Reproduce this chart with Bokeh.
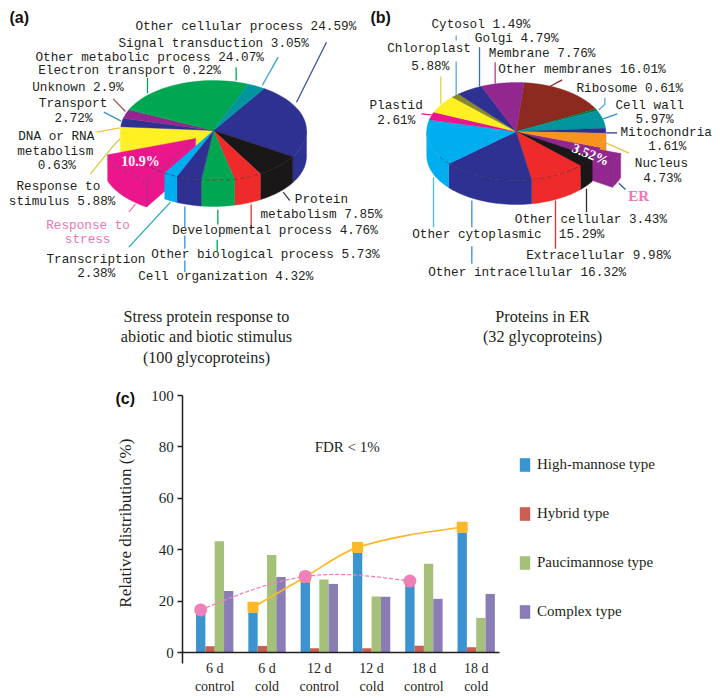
import math
from bokeh.embed import file_html
from bokeh.resources import INLINE
from bokeh.core.properties import value
from bokeh.layouts import column
from bokeh.models import (ColumnDataSource, FixedTicker, Label, Legend, LegendItem, Range1d)
from bokeh.plotting import figure

# ---------- data: panel (a) ----------
a_names = ["Other cellular process", "Protein metabolism", "Developmental process",
           "Other biological process", "Cell organization", "Transcription",
           "Response to stress", "Response to stimulus", "DNA or RNA metabolism",
           "Transport", "Unknown", "Electron transport", "Other metabolic process",
           "Signal transduction"]
a_values = [24.59, 7.85, 4.76, 5.73, 4.32, 2.38, 10.9, 5.88, 0.63, 2.72, 2.9, 0.22, 24.07, 3.05]
a_colors = ["#2e3192", "#1a1718", "#ee2a2b", "#00a651", "#2e3192", "#00aeef", "#ec168c",
            "#fff023", "#fff023", "#2e3192", "#92278f", "#00a651", "#00a651", "#00959f"]

# ---------- data: panel (b) ----------
b_names = ["Other membranes", "Ribosome", "Cell wall", "Mitochondria", "Nucleus", "ER",
           "Other cellular", "Extracellular", "Other intracellular", "Other cytoplasmic",
           "Plastid", "Chloroplast", "Cytosol", "Golgi", "Membrane"]
b_values = [16.01, 0.61, 5.97, 1.61, 4.73, 3.52, 3.43, 9.98, 16.32, 15.29, 2.61, 5.88, 1.49, 4.79, 7.76]
b_colors = ["#8c2a20", "#00763a", "#00959f", "#2e3192", "#f7941d", "#92278f", "#1a1718",
            "#ee2a2b", "#2e3192", "#00aeef", "#ec168c", "#fff023", "#8a8a2a", "#2e3192", "#92278f"]

# ---------- data: panel (c) ----------
groups = ["6 d\ncontrol", "6 d\ncold", "12 d\ncontrol", "12 d\ncold", "18 d\ncontrol", "18 d\ncold"]
high_mannose = [15.3, 15.7, 28.0, 39.0, 27.0, 46.8]
hybrid = [2.6, 2.7, 1.8, 1.8, 2.8, 2.2]
paucimannose = [43.4, 38.0, 28.5, 21.9, 34.6, 13.6]
complex_type = [24.0, 29.5, 26.8, 21.8, 21.0, 22.9]
cold_idx = [1, 2, 3, 5]
cold_trend = [17.7, 29.5, 41.0, 48.8]
control_idx = [0, 2, 4]
control_trend = [16.7, 29.7, 27.9]
y_ticks = [0, 20, 40, 60, 80, 100]

# ---------- text and leaders of the pies (page pixels) ----------
MONO = "Liberation Mono"
SERIF = "Liberation Serif"
PINK = "#f272b4"
INK = "#231f20"
pie_texts = [
    ("Other cellular process 24.59%", 135, 26, INK), ("Signal transduction 3.05%", 118, 43.3, INK),
    ("Other metabolic process 24.07%", 35, 57.3, INK), ("Electron transport 0.22%", 37.7, 70.3, INK),
    ("Unknown 2.9%", 31.7, 87.3, INK), ("Transport", 38.3, 103.3, INK), ("2.72%", 54, 117.7, INK),
    ("DNA or RNA", 17.7, 136, INK), ("metabolism", 16.7, 151, INK), ("0.63%", 37.3, 165.3, INK),
    ("Response to", 16, 186, INK), ("stimulus 5.88%", 8.3, 201, INK),
    ("Response to", 45.7, 225, PINK), ("stress", 64.3, 239.3, PINK),
    ("Transcription", 46, 258.7, INK), ("2.38%", 76.7, 273.3, INK),
    ("Protein", 294.3, 199.3, INK), ("metabolism 7.85%", 260, 214.3, INK),
    ("Developmental process 4.76%", 171.7, 230, INK), ("Other biological process 5.73%", 150.7, 254, INK),
    ("Cell organization 4.32%", 137.7, 276, INK),
    ("Cytosol 1.49%", 431, 24, INK), ("Golgi 4.79%", 474.3, 37.7, INK), ("Chloroplast", 386.7, 47.7, INK),
    ("5.88%", 410.7, 66, INK), ("Membrane 7.76%", 488.3, 53.3, INK), ("Other membranes 16.01%", 497.7, 69.3, INK),
    ("Ribosome 0.61%", 576, 87.7, INK), ("Cell wall", 615, 105, INK), ("5.97%", 635, 119, INK),
    ("Mitochondria", 620, 132.3, INK), ("1.61%", 647.7, 146, INK), ("Nucleus", 634.3, 163.3, INK),
    ("4.73%", 642.7, 177.7, INK), ("Plastid", 369, 105, INK), ("2.61%", 376.7, 120, INK),
    ("Other cellular 3.43%", 514.3, 219, INK), ("Other cytoplasmic", 411.7, 234.3, INK),
    ("15.29%", 558.3, 234.3, INK), ("Extracellular 9.98%", 525.7, 255, INK),
    ("Other intracellular 16.32%", 427.7, 271.7, INK),
]
leaders_3x = [  # x offset, xs, ys, colour, in 3x crop pixels of each half
    (0, [978, 888], [125, 305], "#3b4a9c"), (0, [833, 785], [170, 255], "#3a9fd0"),
    (0, [707, 707], [200, 240], "#00a651"), (0, [441, 441], [232, 278], "#00a651"),
    (0, [338, 375], [295, 333], "#a05050"), (0, [310, 362], [335, 362], "#3a8fd0"),
    (0, [288, 358], [395, 382], "#f5c040"), (0, [270, 335, 360], [520, 440, 413], "#d8c840"),
    (0, [385, 405], [635, 610], PINK), (0, [385, 510], [740, 605], "#20a8c0"),
    (0, [553, 553], [618, 680], "#3a8fd0"), (0, [553, 553], [705, 745], "#3a8fd0"),
    (0, [553, 553], [780, 815], "#3a8fd0"), (0, [652, 652], [628, 672], "#00a651"),
    (0, [650, 650], [718, 752], "#00a651"), (0, [752, 752], [612, 685], "#ee2a2b"),
    (0, [848, 868], [575, 600], "#444444"),
    (360, [287, 287], [105, 120], "#5aa7dc"), (360, [287, 287], [183, 285], "#5aa7dc"),
    (360, [357, 357], [140, 258], "#3f6fc0"), (360, [241, 241], [228, 310], "#e0d050"),
    (360, [404, 404], [185, 250], "#c03a90"), (360, [605, 568], [238, 258], "#8c2a20"),
    (360, [733, 733, 715], [292, 312, 328], "#5aa7dc"), (360, [770, 728], [340, 355], "#2a90d8"),
    (360, [770, 738], [397, 397], "#2e3192"), (360, [805, 738], [458, 428], "#f5c040"),
    (360, [795, 775], [567, 548], "#2e5a9c"), (360, [183, 213], [340, 343], "#ec168c"),
    (360, [678, 678], [565, 635], "#333333"), (360, [585, 585], [600, 745], "#ee2a2b"),
    (360, [219, 219], [530, 680], "#50b8d8"), (360, [334, 334], [600, 680], "#3a8fd0"),
    (360, [334, 334], [737, 790], "#3a8fd0"),
]

W, H_TOP, H_BOT = 721, 383, 315


def arc(cx, cy, rx, ry, a0, a1, n=30):
    return ([cx + rx * math.cos(math.radians(a0 + (a1 - a0) * i / n)) for i in range(n + 1)],
            [cy - ry * math.sin(math.radians(a0 + (a1 - a0) * i / n)) for i in range(n + 1)])


def wedge(cx, cy, rx, ry, a0, a1):
    x, y = arc(cx, cy, rx, ry, a0, a1)
    return [cx] + x, [cy] + y


def side(cx, cy, rx, ry, d, a0, a1):
    hi, lo = min(a0, 0), max(a1, -180)
    if hi <= lo:
        return None
    x, y = arc(cx, cy, rx, ry, hi, lo)
    return x + x[::-1], y + [v + d for v in y[::-1]]


def cut_face(cx, cy, rx, ry, d, a):
    ex, ey = cx + rx * math.cos(math.radians(a)), cy - ry * math.sin(math.radians(a))
    return [cx, ex, ex, cx], [cy, ey, ey + d, cy + d]


def draw_pie(p, values, colors, cx, cy, rx, ry, d, start, burst, offset, under, cut_under, burst_cut):
    total = sum(values)
    bounds = [start]
    for v in values:
        bounds.append(bounds[-1] - 360 * v / total)
    xs, ys, cs = [], [], []

    def add(poly, c):
        if poly:
            xs.append(poly[0]); ys.append(poly[1]); cs.append(c)

    for i in under:
        add(side(cx, cy, rx, ry, d, bounds[i], bounds[i + 1]), colors[i])
    if cut_under is not None:
        add(cut_face(cx, cy, rx, ry, d, bounds[cut_under]), colors[cut_under])
    bx, by = cx + offset[0], cy + offset[1]
    c = colors[burst]
    add(wedge(cx, cy, rx, ry, bounds[burst], bounds[burst + 1]) if offset[0] > 0 else None, c)
    add(cut_face(bx, by, rx, ry, d, bounds[burst + burst_cut]), c)
    add(side(bx, by, rx, ry, d, bounds[burst], bounds[burst + 1]), c)
    add(wedge(bx, by, rx, ry, bounds[burst], bounds[burst + 1]), c)
    for i in range(len(values)):
        if i != burst and i not in under:
            add(side(cx, cy, rx, ry, d, bounds[i], bounds[i + 1]), colors[i])
    for i in range(len(values)):
        if i != burst:
            add(wedge(cx, cy, rx, ry, bounds[i], bounds[i + 1]), colors[i])
    p.patches(xs, ys, fill_color=cs, line_color=cs, line_width=0.4)
    ax, ay = arc(cx, cy, rx, ry, -35, -150)
    p.line(ax, ay, line_color="#3a2a2a", line_width=0.7, line_dash="5 2", line_alpha=0.6)
    bxs, bys = arc(bx, by, rx, ry, bounds[burst], bounds[burst + 1])
    p.line(bxs, bys, line_color="#5a3a6a", line_width=0.7, line_alpha=0.7, line_dash="5 2")
    corner = bounds[burst + burst_cut]
    ex, ey = bx + rx * math.cos(math.radians(corner)), by - ry * math.sin(math.radians(corner))
    p.line([bx, ex, ex], [by, ey, ey + d], line_color="#5a3a6a", line_width=0.7, line_alpha=0.7)


# ---------- top figure: the two pies ----------
top = figure(width=W, height=H_TOP, x_range=Range1d(0, W), y_range=Range1d(H_TOP, 0),
             x_axis_type=None, y_axis_type=None, toolbar_location=None, output_backend="svg",
             min_border=0, outline_line_color=None)
top.grid.visible = False

for off, lx, ly, col in leaders_3x:
    top.line([off + v / 3 for v in lx], [v / 3 for v in ly], line_color=col, line_width=1.3)

draw_pie(top, a_values, a_colors, 213, 130, 93, 50, 26, 57.0, 6, (-18, 8), [7], 7, 0)
draw_pie(top, b_values, b_colors, 515.7, 131, 89.5, 49, 24, 85.0, 5, (20, 6), [2, 3, 4], None, 1)

src = ColumnDataSource(dict(t=[r[0] for r in pie_texts], x=[r[1] for r in pie_texts],
                            y=[r[2] for r in pie_texts], c=[r[3] for r in pie_texts]))
top.text("x", "y", text="t", source=src, text_color="c", text_font=value(MONO),
         text_font_size="12.7px", text_baseline="middle", text_align="left")

top.text([627.7], [195], text=["ER"], text_color=PINK, text_font=value(SERIF), text_font_size="15px",
         text_font_style="bold", text_baseline="middle")
top.text([140], [161], text=["10.9%"], text_color="white", text_font=value(SERIF), text_font_size="14px",
         text_font_style="bold", text_baseline="middle", text_align="center")
top.text([590], [154], text=["3.52%"], text_color="white", text_font=value(SERIF), text_font_size="14px",
         text_font_style="bold", text_baseline="middle", text_align="center", angle=-0.38)
for t, x in (("(a)", 9), ("(b)", 370)):
    top.text([x], [16.7], text=[t], text_color="#111111", text_font=value("Liberation Sans"),
             text_font_size="16px", text_font_style="bold", text_baseline="middle")
for t, x, y in (("Stress protein response to", 206, 316), ("abiotic and biotic stimulus", 206, 336.5),
                ("(100 glycoproteins)", 206, 357), ("Proteins in ER", 542, 316), ("(32 glycoproteins)", 542, 336.5)):
    top.text([x], [y], text=[t], text_color=INK, text_font=value(SERIF), text_font_size="16.2px",
             text_baseline="middle", text_align="center")

# ---------- bottom figure: bars ----------
UNIT = 52.3
AX_X = 182.3
PX_PER_PCT = 2.574
Y_TOP = 100 + 12 / PX_PER_PCT
bot = figure(width=W, height=H_BOT, x_range=Range1d(-AX_X / UNIT, (W - AX_X) / UNIT),
             y_range=Range1d(Y_TOP - H_BOT / PX_PER_PCT, Y_TOP),
             toolbar_location=None, output_backend="svg", min_border=0, outline_line_color=None)
bot.grid.visible = False

centers = [i + 0.61 for i in range(len(groups))]
bw = 0.1785
series = [("High-mannose type", high_mannose, "#3b93d0", -1.5), ("Hybrid type", hybrid, "#c85f50", -0.5),
          ("Paucimannose type", paucimannose, "#a5c079", 0.5), ("Complex type", complex_type, "#8a7db5", 1.5)]
items = []
for name, vals, col, k in series:
    r = bot.vbar(x=[c + k * bw for c in centers], top=vals, bottom=0, width=bw, fill_color=col, line_color=None)
    items.append(LegendItem(label=name, renderers=[r]))
leg = Legend(items=items, location=(518, 78), padding=0, margin=0, spacing=32, glyph_width=13, glyph_height=17,
             label_standoff=6, border_line_color=None, background_fill_alpha=0, label_text_font=SERIF,
             label_text_font_size="15px", label_text_color=INK, label_height=17)
bot.add_layout(leg)


def smooth(p, xs, ys, **kw):
    """Cubic Hermite curve through the plotted points, drawn with Bokeh's bezier glyph."""
    n = len(xs)
    sec = [(ys[i + 1] - ys[i]) / (xs[i + 1] - xs[i]) for i in range(n - 1)]
    m = [0.0] * n
    for i in range(1, n - 1):
        m[i] = (ys[i + 1] - ys[i - 1]) / (xs[i + 1] - xs[i - 1])
    m[0] = (3 * sec[0] - m[1]) / 2
    m[-1] = (3 * sec[-1] - m[-2]) / 2
    x0, y0, x1, y1, cx0, cy0, cx1, cy1 = [], [], [], [], [], [], [], []
    for i in range(n - 1):
        h = (xs[i + 1] - xs[i]) / 3
        x0.append(xs[i]); y0.append(ys[i]); x1.append(xs[i + 1]); y1.append(ys[i + 1])
        cx0.append(xs[i] + h); cy0.append(ys[i] + h * m[i])
        cx1.append(xs[i + 1] - h); cy1.append(ys[i + 1] - h * m[i + 1])
    p.bezier(x0=x0, y0=y0, x1=x1, y1=y1, cx0=cx0, cy0=cy0, cx1=cx1, cy1=cy1, **kw)


cx_ = [centers[i] - 1.5 * bw for i in cold_idx]
smooth(bot, cx_, cold_trend, line_color="#fdb827", line_width=1.6)
bot.scatter(cx_, cold_trend, marker="square", size=11, fill_color="#fdb827", line_color=None)
px_ = [centers[i] - 1.5 * bw for i in control_idx]
smooth(bot, px_, control_trend, line_color="#f080b8", line_width=1.3, line_dash="4 2")
bot.scatter(px_, control_trend, marker="circle", size=13, fill_color="#f080b8", line_color=None)

xa = bot.xaxis[0]
xa.fixed_location = 0
xa.bounds = (0, 6.06)
xa.ticker = FixedTicker(ticks=centers)
xa.major_label_overrides = {c: g for c, g in zip(centers, groups)}
xa.major_tick_in = 0
xa.major_tick_out = 0
xa.minor_tick_line_color = None
xa.major_label_standoff = 8
xa.major_label_text_font = SERIF
xa.major_label_text_font_size = "14px"
xa.major_label_text_color = INK
xa.axis_line_width = 1.5
xa.axis_line_color = INK

ya = bot.yaxis[0]
ya.fixed_location = 0
ya.bounds = (-4, 100)
ya.ticker = FixedTicker(ticks=y_ticks)
ya.major_tick_in = 0
ya.major_tick_out = 5
ya.major_tick_line_width = 1.5
ya.major_tick_line_color = INK
ya.minor_tick_line_color = None
ya.axis_line_width = 1.5
ya.axis_line_color = INK
ya.major_label_text_font = SERIF
ya.major_label_text_font_size = "15px"
ya.major_label_text_color = INK
ya.major_label_standoff = 4

bot.add_layout(Label(x=125, y=698 - 522.7, x_units="screen", y_units="screen", text="Relative distribution (%)",
                     angle=math.pi / 2, text_font=SERIF, text_font_size="17px", text_color=INK,
                     text_align="center", text_baseline="middle"))
bot.add_layout(Label(x=346.7, y=698 - 446, x_units="screen", y_units="screen", text="FDR < 1%",
                     text_font=SERIF, text_font_size="15px", text_color=INK, text_align="center",
                     text_baseline="middle"))
bot.add_layout(Label(x=115, y=698 - 398, x_units="screen", y_units="screen", text="(c)",
                     text_font="Liberation Sans", text_font_size="16px", text_font_style="bold",
                     text_color="#111111", text_baseline="middle"))

page = column(top, bot, spacing=0)
open("out.html", "w").write(file_html(page, INLINE))
